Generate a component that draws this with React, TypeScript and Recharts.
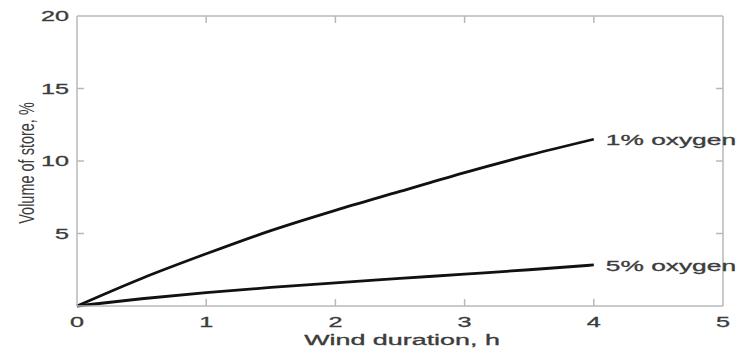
import { Line, LineChart, ReferenceDot, XAxis, YAxis } from "recharts";

const hours = [0, 0.5, 1, 1.5, 2, 2.5, 3, 3.5, 4];
const oxygen1 = [0, 1.9, 3.6, 5.2, 6.6, 7.9, 9.2, 10.4, 11.5];
const oxygen5 = [0, 0.5, 0.92, 1.28, 1.6, 1.9, 2.2, 2.5, 2.83];
const xTicks = [0, 1, 2, 3, 4, 5];
const yTicks = [0, 5, 10, 15, 20];
const seriesNames = ["1% oxygen", "5% oxygen"];

const data = hours.map((h, i) => ({ h, o1: oxygen1[i], o5: oxygen5[i] }));
const last = hours.length - 1;
const xMax = xTicks[xTicks.length - 1];
const yMax = yTicks[yTicks.length - 1];

const frame = "#b8b8b8";
const textColor = "#3c3c3c";
const font = "'Liberation Sans', Arial, sans-serif";
// the source image is stretched sideways, so text is widened to match
const stretch = 1.8;

const Wide = ({ x, y, anchor = "start", size = 14, sx = stretch, children }: any) => (
	<g transform={`translate(${x},${y}) scale(${sx},1)`}>
		<text x={0} y={0} textAnchor={anchor} fill={textColor} fontSize={size} fontFamily={font} stroke={textColor} strokeWidth={0.3}>
			{children}
		</text>
	</g>
);

const inner = (v: number, max: number) => v > 0 && v < max;

const BottomTick = (props: any) => {
	const { x, y, payload } = props;
	return (
		<g>
			{inner(payload.value, xMax) && <line x1={x} x2={x} y1={y} y2={y - 7} stroke={frame} strokeWidth={1.5} />}
			<Wide x={x} y={y + 21} anchor="middle">
				{payload.value}
			</Wide>
		</g>
	);
};

const TopTick = (props: any) => {
	const { x, y, payload } = props;
	if (!inner(payload.value, xMax)) return <g />;
	return <line x1={x} x2={x} y1={y} y2={y + 7} stroke={frame} strokeWidth={1.5} />;
};

const LeftTick = (props: any) => {
	const { x, y, payload } = props;
	return (
		<g>
			{inner(payload.value, yMax) && <line x1={x} x2={x + 7} y1={y} y2={y} stroke={frame} strokeWidth={1.5} />}
			{payload.value > 0 && (
				<Wide x={x - 8} y={y + 5} anchor="end">
					{payload.value}
				</Wide>
			)}
		</g>
	);
};

const RightTick = (props: any) => {
	const { x, y, payload } = props;
	if (!inner(payload.value, yMax)) return <g />;
	return <line x1={x} x2={x - 7} y1={y} y2={y} stroke={frame} strokeWidth={1.5} />;
};

const XTitle = (props: any) => {
	const { viewBox } = props;
	return (
		<Wide x={viewBox.x + viewBox.width / 2 + 2} y={345} anchor="middle" size={14} sx={1.92}>
			Wind duration, h
		</Wide>
	);
};

const YTitle = (props: any) => {
	const { viewBox } = props;
	const cx = 28;
	const cy = viewBox.y + viewBox.height / 2 + 2;
	return (
		<g transform={`translate(${cx},${cy}) scale(1.5,1) rotate(-90)`}>
			<text x={0} y={4} textAnchor="middle" fill={textColor} fontSize={14.5} fontFamily={font}>
				Volume of store, %
			</text>
		</g>
	);
};

const endLabel = (text: string) => (props: any) => {
	const { viewBox } = props;
	const x = viewBox.x + (viewBox.width || 0) / 2;
	const y = viewBox.y + (viewBox.height || 0) / 2;
	return (
		<Wide x={x + 12} y={y + 6} size={14} sx={1.88}>
			{text}
		</Wide>
	);
};

const axisLine = { stroke: frame, strokeWidth: 1.5 };

export default function App() {
	return (
		<div style={{ position: "absolute", left: 0, top: 0, width: 739, height: 349 }}>
			<LineChart width={739} height={349} data={data} margin={{ top: 6, right: 6, bottom: 0, left: 8 }}>
				<XAxis
					dataKey="h"
					type="number"
					domain={[0, xMax]}
					ticks={xTicks}
					height={43}
					tickSize={0}
					tickMargin={0}
					axisLine={axisLine}
					tick={<BottomTick />}
					label={<XTitle />}
				/>
				<XAxis
					xAxisId="t"
					orientation="top"
					dataKey="h"
					type="number"
					domain={[0, xMax]}
					ticks={xTicks}
					height={10}
					tickSize={0}
					tickMargin={0}
					axisLine={axisLine}
					tick={<TopTick />}
				/>
				<YAxis
					type="number"
					domain={[0, yMax]}
					ticks={yTicks}
					width={69}
					tickSize={0}
					tickMargin={0}
					axisLine={axisLine}
					tick={<LeftTick />}
					label={<YTitle />}
				/>
				<YAxis
					yAxisId="r"
					orientation="right"
					type="number"
					domain={[0, yMax]}
					ticks={yTicks}
					width={10}
					tickSize={0}
					tickMargin={0}
					axisLine={axisLine}
					tick={<RightTick />}
				/>
				{/* invisible series so the top and right border axes are drawn */}
				<Line xAxisId="t" dataKey="o1" stroke="#fff" strokeOpacity={0} dot={false} activeDot={false} isAnimationActive={false} />
				<Line yAxisId="r" dataKey="o1" stroke="#fff" strokeOpacity={0} dot={false} activeDot={false} isAnimationActive={false} />
				<Line
					type="monotone"
					dataKey="o1"
					stroke="#111"
					strokeWidth={2.8}
					dot={false}
					isAnimationActive={false}
				/>
				<Line
					type="monotone"
					dataKey="o5"
					stroke="#111"
					strokeWidth={2.8}
					dot={false}
					isAnimationActive={false}
				/>
				<ReferenceDot x={hours[last]} y={oxygen1[last]} r={0} ifOverflow="visible" label={endLabel(seriesNames[0])} />
				<ReferenceDot x={hours[last]} y={oxygen5[last]} r={0} ifOverflow="visible" label={endLabel(seriesNames[1])} />
			</LineChart>
		</div>
	);
}
